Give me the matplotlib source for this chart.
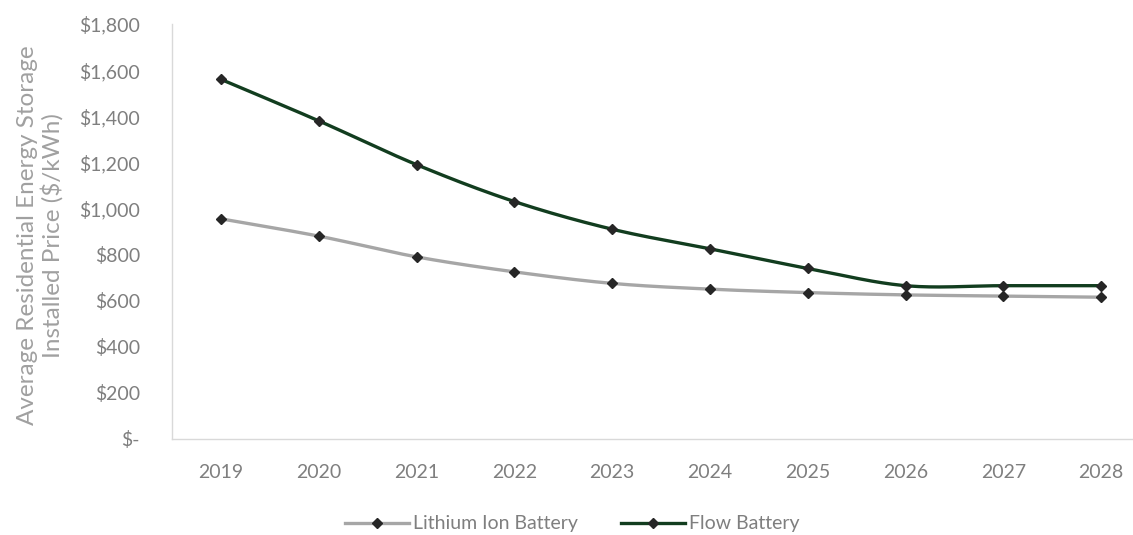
import numpy as np
import matplotlib.pyplot as plt
from matplotlib.ticker import FuncFormatter

plt.rcParams['font.family'] = ['Lato', 'DejaVu Sans']

years = ['2019', '2020', '2021', '2022', '2023', '2024', '2025', '2026', '2027', '2028']
lithium = [955, 880, 790, 725, 675, 650, 635, 625, 620, 615]
flow = [1560, 1380, 1190, 1030, 910, 825, 740, 665, 665, 665]

gray_txt = '#7f7f7f'


def smooth(x, y, n=30):
    # Catmull-Rom curve through the points, like Excel's smoothed line
    x = np.asarray(x, float)
    y = np.asarray(y, float)
    px = np.concatenate([[2 * x[0] - x[1]], x, [2 * x[-1] - x[-2]]])
    py = np.concatenate([[2 * y[0] - y[1]], y, [2 * y[-1] - y[-2]]])
    xs, ys = [], []
    t = np.linspace(0, 1, n)
    for i in range(1, len(px) - 2):
        for p, out in ((px, xs), (py, ys)):
            p0, p1, p2, p3 = p[i - 1], p[i], p[i + 1], p[i + 2]
            seg = 0.5 * (2 * p1 + (-p0 + p2) * t + (2 * p0 - 5 * p1 + 4 * p2 - p3) * t ** 2
                         + (-p0 + 3 * p1 - 3 * p2 + p3) * t ** 3)
            out.extend(seg)
    return xs, ys


fig = plt.figure(figsize=(11.33, 5.35), dpi=100)
ax = fig.add_axes([172 / 1133, (535 - 439) / 535, 978 / 1133, 415 / 535])

x = np.arange(len(years))
series = [('Lithium Ion Battery', lithium, '#a6a6a6'),
          ('Flow Battery', flow, '#123d1f')]
for name, vals, col in series:
    sx, sy = smooth(x, vals)
    ax.plot(sx, sy, color=col, lw=2.4, solid_capstyle='round', zorder=2)
    ax.plot(x, vals, ls='none', marker='D', ms=5.5, color='#262626', zorder=3)
    # legend proxy
    ax.plot([], [], color=col, lw=2.4, marker='D', ms=5.5, mfc='#262626', mec='#262626', label=name)

ax.set_xlim(-0.5, len(years) - 0.5)
ax.set_ylim(0, 1800)
ax.set_yticks(range(0, 1801, 200))
ax.yaxis.set_major_formatter(FuncFormatter(lambda v, p: '$-' if v == 0 else '${:,.0f}'.format(v)))
ax.set_xticks(x)
ax.set_xticklabels(years)
ax.tick_params(axis='both', length=0, labelsize=14, colors=gray_txt)
ax.tick_params(axis='y', pad=23)
ax.tick_params(axis='x', pad=18)

for s in ('top', 'right'):
    ax.spines[s].set_visible(False)
for s in ('left', 'bottom'):
    ax.spines[s].set_color('#d9d9d9')
    ax.spines[s].set_linewidth(1)

ax.set_ylabel('Average Residential Energy Storage\nInstalled Price ($/kWh)',
              fontsize=17.5, color='#a0a0a0', linespacing=1.15)
ax.yaxis.set_label_coords(-108 / 978, 0.49)

fig.legend(loc='center', bbox_to_anchor=(572 / 1133, 1 - 524 / 535), ncol=2, frameon=False,
           fontsize=14, labelcolor=gray_txt, handlelength=3.3, handletextpad=0.2,
           columnspacing=2.2)

fig.savefig('out.png', dpi=100)
